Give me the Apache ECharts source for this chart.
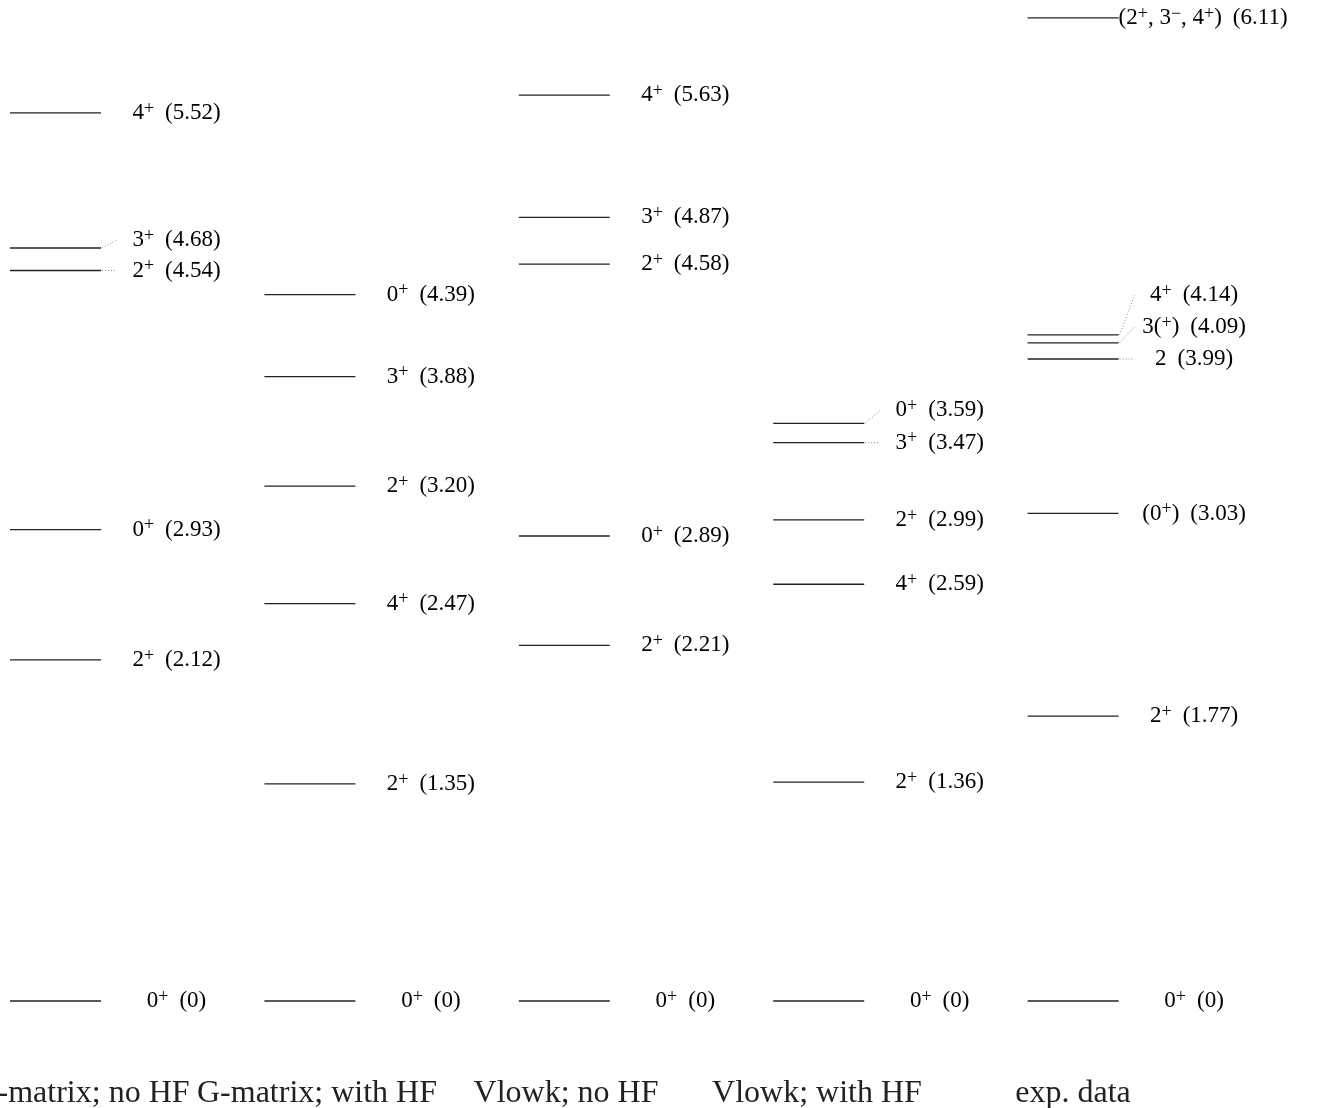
<!DOCTYPE html>
<html>
<head>
<meta charset="utf-8">
<script src="https://cdn.jsdelivr.net/npm/echarts@6/dist/echarts.min.js"></script>
<style>html,body{margin:0;padding:0;background:#fff}#c{width:1321px;height:1108px}</style>
</head>
<body>
<div id="c"></div>
<script>
// ---- data ----
const columns = ['G-matrix; no HF', 'G-matrix; with HF', 'Vlowk; no HF', 'Vlowk; with HF', 'exp. data'];
const energies = [
  [0, 2.12, 2.93, 4.54, 4.68, 5.52],
  [0, 1.35, 2.47, 3.20, 3.88, 4.39],
  [0, 2.21, 2.89, 4.58, 4.87, 5.63],
  [0, 1.36, 2.59, 2.99, 3.47, 3.59],
  [0, 1.77, 3.03, 3.99, 4.09, 4.14, 6.11]
];
const spins = [
  ['0^+', '2^+', '0^+', '2^+', '3^+', '4^+'],
  ['0^+', '2^+', '4^+', '2^+', '3^+', '0^+'],
  ['0^+', '2^+', '0^+', '2^+', '3^+', '4^+'],
  ['0^+', '2^+', '4^+', '2^+', '3^+', '0^+'],
  ['0^+', '2^+', '(0^+)', '2', '3(^+)', '4^+', '(2^+, 3^−, 4^+)']
];

// ---- layout (pixels), not data ----
const LINE_HALF = 45.5;
const LABEL_DX = 121;
const labelLayout = {   // key "col:idx" -> label pixel shift / connector
  '0:3': {dy: 0, dot: true},
  '0:4': {dy: -8, dot: true},
  '3:4': {dy: 0, dot: true},
  '3:5': {dy: -13, dot: true},
  '4:3': {dy: 0, dot: true},
  '4:4': {dy: -16, dot: true},
  '4:5': {dy: -40, dot: true},
  '4:6': {dy: 0, leftAlign: true}
};
const bottomLabelCenters = [82, 317, 566, 817, 1073];

const FONT = '"Liberation Serif", "DejaVu Serif", serif';
const INK = '#222';

function fmtE(e) { return e === 0 ? '0' : e.toFixed(2); }
function richSpin(s) {
  // "^x" means superscript of single char x
  let out = '';
  let buf = '';
  for (let i = 0; i < s.length; i++) {
    if (s[i] === '^') {
      if (buf) { out += '{n|' + buf + '}'; buf = ''; }
      out += '{s|' + s[i + 1] + '}';
      i++;
    } else {
      buf += s[i];
    }
  }
  if (buf) out += '{n|' + buf + '}';
  return out;
}

const items = [];
energies.forEach((arr, c) => arr.forEach((e, k) => {
  items.push({value: [c, e], col: c, idx: k,
    text: richSpin(spins[c][k]) + '{g| }{n|(' + fmtE(e) + ')}'});
}));

const rich = {
  n: {fontFamily: FONT, fontSize: 23, lineHeight: 26, color: INK},
  s: {fontFamily: FONT, fontSize: 18, lineHeight: 17, color: INK, verticalAlign: 'top'},
  g: {fontFamily: FONT, fontSize: 23, lineHeight: 26, width: 11}
};

const chart = echarts.init(document.getElementById('c'), null, {renderer: 'canvas'});
chart.setOption({
  animation: false,
  backgroundColor: '#fff',
  grid: {left: 0, right: 0, top: 0, bottom: 107},
  xAxis: {type: 'value', min: -55.5 / 254.4, max: (1321 - 55.5) / 254.4, show: false},
  yAxis: {type: 'value', min: 0, max: 1001 / 160.9, show: false},
  series: [{
    type: 'custom',
    clip: false,
    data: items.map(it => it.value),
    renderItem: function (params, api) {
      const it = items[params.dataIndex];
      const p = api.coord([api.value(0), api.value(1)]);
      const lay = labelLayout[it.col + ':' + it.idx] || {dy: 0};
      const x0 = p[0] - LINE_HALF, x1 = p[0] + LINE_HALF, y = p[1];
      const children = [{
        type: 'line',
        shape: {x1: x0, y1: y, x2: x1, y2: y},
        style: {stroke: INK, lineWidth: 1.3}
      }];
      const ly = y + lay.dy;
      if (lay.dot) {
        children.push({
          type: 'line',
          shape: {x1: x1 + 1, y1: y, x2: x1 + 16, y2: ly},
          style: {stroke: '#888', lineWidth: 1, lineDash: [1, 2]}
        });
      }
      children.push({
        type: 'text',
        style: {
          x: lay.leftAlign ? x1 : p[0] + LABEL_DX,
          y: ly,
          text: it.text,
          rich: rich,
          align: lay.leftAlign ? 'left' : 'center',
          verticalAlign: 'middle'
        }
      });
      return {type: 'group', children: children};
    }
  }],
  graphic: columns.map((name, i) => ({
    type: 'text',
    x: bottomLabelCenters[i],
    y: 1094,
    style: {
      text: name,
      font: '32px ' + FONT,
      fill: INK,
      align: 'center',
      verticalAlign: 'middle'
    }
  }))
});
</script>
</body>
</html>
